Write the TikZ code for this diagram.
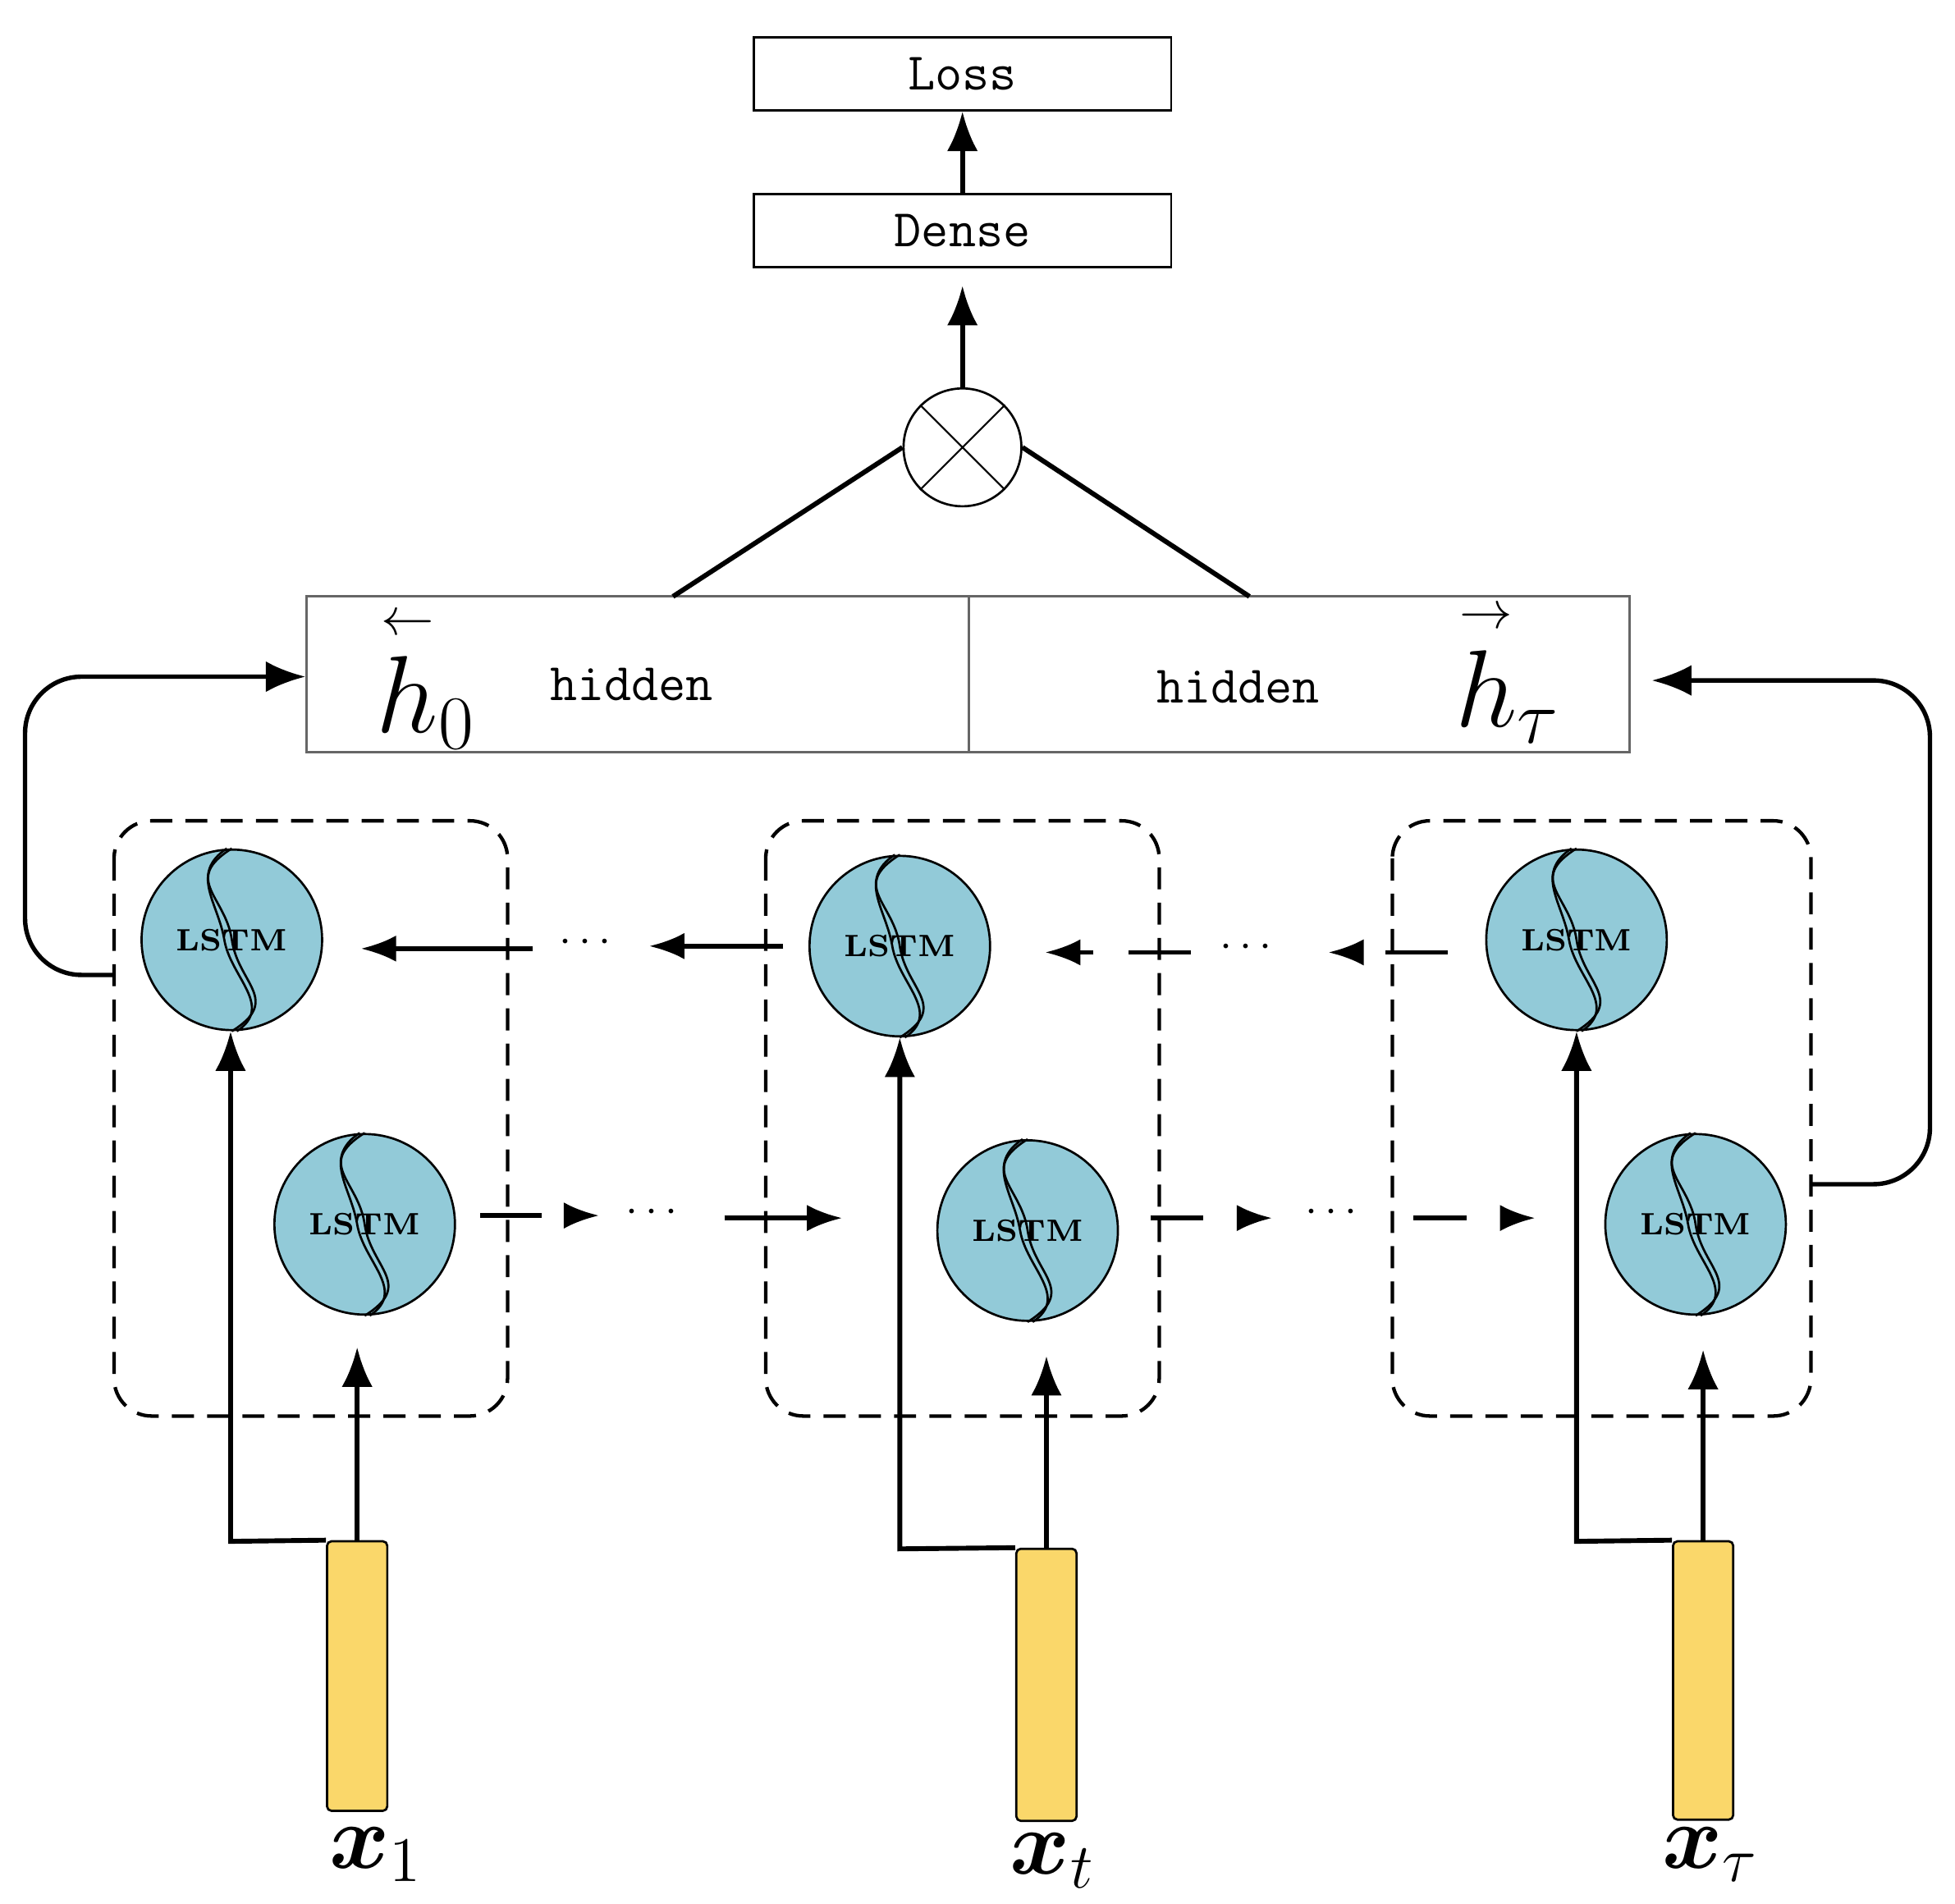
\documentclass[tikz,border=0pt]{standalone}
\usepackage{amsmath}
\usetikzlibrary{arrows.meta,calc}
\definecolor{lstmblue}{HTML}{92CAD8}
\definecolor{inyellow}{HTML}{FAD76A}
\begin{document}
\begin{tikzpicture}[x=0.01cm,y=-0.01cm,
    box/.style={draw,line width=0.5pt,rectangle,inner sep=0pt},
    lstm/.style={circle,draw,line width=0.5pt,fill=lstmblue,minimum size=1.44cm,inner sep=0pt,font=\bfseries\fontsize{7}{8}\selectfont},
    cell/.style={draw,dashed,line width=0.8pt,rounded corners=0.3cm,dash pattern=on 5pt off 3pt},
    inp/.style={draw,line width=0.5pt,fill=inyellow,rounded corners=1pt,minimum width=0.48cm,inner sep=0pt},
    arr/.style={line width=1.1pt,-{Latex[length=9pt,width=7pt]}},
    darr/.style={line width=1pt,-{Latex[length=8pt,width=6pt]}},
    lbl/.style={font=\fontsize{20}{22}\selectfont\bfseries\itshape}]
\useasboundingbox (0,0) rectangle (1560,1519);
% top boxes
\node[box,minimum width=3.33cm,minimum height=0.58cm,font=\ttfamily\large] (loss) at (768,59) {Loss};
\node[box,minimum width=3.33cm,minimum height=0.58cm,font=\ttfamily\large] (dense) at (768,184) {Dense};
\node[circle,draw,line width=0.5pt,minimum size=0.94cm,inner sep=0pt] (mul) at (768,357) {};
\draw[line width=0.4pt] (mul.north west) -- (mul.south east) (mul.north east) -- (mul.south west);
\draw[arr] (dense) -- (loss);
\coordinate (dbot) at (768,228);
\draw[arr] (mul) -- (dbot);
% hidden box
\node[box,draw=gray!80!black,minimum width=10.55cm,minimum height=1.24cm] (hid) at (772.5,538) {};
\draw[gray!80!black,line width=0.5pt] (773,476) -- (773,600);
\node[font=\ttfamily\large] (hl) at (504,546) {hidden};
\node[font=\ttfamily\large] (hr) at (988,548) {hidden};
\node[font=\fontsize{24}{26}\selectfont] (h0) at (340,540) {$\overset{\scriptscriptstyle\leftarrow}{h}_{0}$};
\node[font=\fontsize{24}{26}\selectfont] (ht) at (1203,535) {$\overset{\scriptscriptstyle\rightarrow}{h}_{\tau}$};
\coordinate (hla) at (537,476);
\coordinate (hra) at (997,476);
\draw[line width=1.1pt] (hla) -- (mul.west |- 357,357) (hra) -- (mul.east |- 357,357);
% cells
\draw[cell] (91,655) rectangle (405,1130);
\draw[cell] (611,655) rectangle (925,1130);
\draw[cell] (1111,655) rectangle (1445,1130);
\node[lstm] (b1) at (185,750) {LSTM};
\node[lstm] (b2) at (718,755) {LSTM};
\node[lstm] (b3) at (1258,750) {LSTM};
\node[lstm] (f1) at (291,977) {LSTM};
\node[lstm] (f2) at (820,982) {LSTM};
\node[lstm] (f3) at (1353,977) {LSTM};
\foreach \c in {b1,b2,b3,f1,f2,f3}{
  \draw[line width=0.5pt] (\c.north) .. controls +(-40,25) and +(-5,-35) .. ($(\c.center)+(0,0)$)
     .. controls +(5,35) and +(40,-25) .. (\c.south);
  \draw[line width=0.5pt] ($(\c.north)+(-4,0)$) .. controls +(-30,20) and +(-5,-30) .. ($(\c.center)+(-6,0)$)
     .. controls +(5,30) and +(30,-20) .. ($(\c.south)+(4,0)$);
}
% inputs
\node[inp,minimum height=2.15cm] (x1) at (285,1337.5) {};
\node[inp,minimum height=2.17cm] (x2) at (835,1344.5) {};
\node[inp,minimum height=2.22cm] (x3) at (1359,1341) {};
\node[lbl] (lx1) at (300,1480) {$\boldsymbol{x}_{1}$};
\node[lbl] (lx2) at (840,1485) {$\boldsymbol{x}_{t}$};
\node[lbl] (lx3) at (1365,1480) {$\boldsymbol{x}_{\tau}$};
\draw[arr] (x1.north west) -- (184,1230) -- (b1.south -| 184,0);
\draw[arr] (x2.north west) -- (718,1236) -- (b2.south);
\draw[arr] (x3.north west) -- (1258,1230) -- (b3.south);
\coordinate (t1) at (285,1075);
\coordinate (t2) at (835,1082);
\coordinate (t3) at (1359,1077);
\draw[arr] (x1.north) -- (t1);
\draw[arr] (x2.north) -- (t2);
\draw[arr] (x3.north) -- (t3);
% backward chain
\draw[darr] (425,757) -- (288,757);
\node (d1) at (470,752) {$\cdots$};
\draw[darr] (625,755) -- (518,755);
\draw[darr,dashed,dash pattern=on 14pt off 8pt] (950,760) -- (834,760);
\node (d2) at (997,756) {$\cdots$};
\draw[darr,dashed,dash pattern=on 14pt off 8pt] (1155,760) -- (1060,760);
% forward chain
\draw[darr,dash pattern=on 14pt off 8pt] (383,970) -- (478,970);
\node (d3) at (523,968) {$\cdots$};
\draw[darr] (578,972) -- (672,972);
\draw[darr,dash pattern=on 12pt off 8pt] (918,972) -- (1015,972);
\node (d4) at (1065,968) {$\cdots$};
\draw[darr,dash pattern=on 12pt off 8pt] (1128,972) -- (1225,972);
% side loops
\coordinate (la) at (91,778);
\coordinate (ra) at (1445,945);
\draw[arr,line width=1pt,rounded corners=0.45cm] (la) -- (20,778) -- (20,540) -- (hid.west |- 0,540);
\draw[arr,line width=1pt,rounded corners=0.45cm] (ra) -- (1540,945) -- (1540,543) -- (1318,543);
\end{tikzpicture}
\end{document}
